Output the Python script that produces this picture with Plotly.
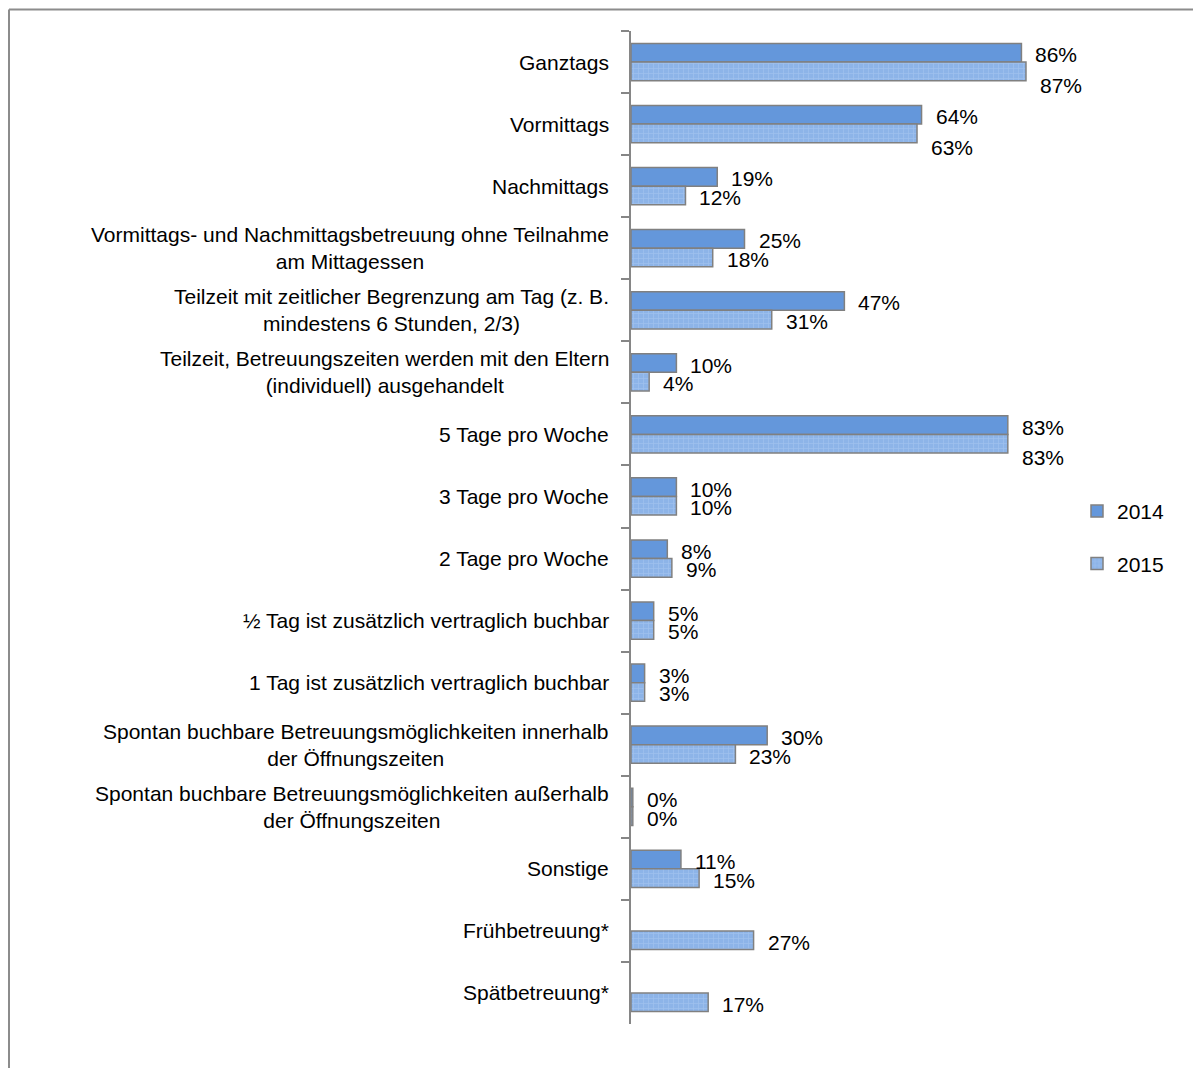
import plotly.graph_objects as go

categories = [
    "Ganztags",
    "Vormittags",
    "Nachmittags",
    "Vormittags- und Nachmittagsbetreuung ohne Teilnahme<br>am Mittagessen",
    "Teilzeit mit zeitlicher Begrenzung am Tag (z. B.<br>mindestens 6 Stunden, 2/3)",
    "Teilzeit, Betreuungszeiten werden mit den Eltern<br>(individuell) ausgehandelt",
    "5 Tage pro Woche",
    "3 Tage pro Woche",
    "2 Tage pro Woche",
    "½ Tag ist zusätzlich vertraglich buchbar",
    "1 Tag ist zusätzlich vertraglich buchbar",
    "Spontan buchbare Betreuungsmöglichkeiten innerhalb<br>der Öffnungszeiten",
    "Spontan buchbare Betreuungsmöglichkeiten außerhalb<br>der Öffnungszeiten",
    "Sonstige",
    "Frühbetreuung*",
    "Spätbetreuung*",
]
share_2014 = [0.86, 0.64, 0.19, 0.25, 0.47, 0.10, 0.83, 0.10, 0.08, 0.05, 0.03, 0.30, 0.004, 0.11, None, None]
share_2015 = [0.87, 0.63, 0.12, 0.18, 0.31, 0.04, 0.83, 0.10, 0.09, 0.05, 0.03, 0.23, 0.004, 0.15, 0.27, 0.17]

# the page puts the figure 8px in from the corner
W, H = 1193, 1060
left, right, top, bottom = 623, 1077, 23, 1016
FONT = "Liberation Sans, Arial, sans-serif"
GREY = "#868686"
BARGAP = 0.4

fig = go.Figure()
fig.add_trace(go.Bar(
    y=categories, x=share_2014, name="2014", orientation="h",
    legendgroup="a",
    marker=dict(color="#6497db", line=dict(color="#808080", width=1.5)),
))
fig.add_trace(go.Bar(
    y=categories, x=share_2015, name="2015", orientation="h",
    legendgroup="b",
    marker=dict(color="#8db4e8", line=dict(color="#808080", width=1.5),
                pattern=dict(shape="+", fgcolor="#b3cdf2", bgcolor="#8db4e8",
                             size=5, solidity=0.25)),
))

# category labels, centred like the original
for c in categories:
    fig.add_annotation(x=0, xref="paper", y=c, yref="y", text=c, showarrow=False,
                       xanchor="right", xshift=-20, align="center",
                       font=dict(size=21, color="black", family=FONT))

# value labels next to each bar
half = (1 - BARGAP) / 4
for i, (a, b) in enumerate(zip(share_2014, share_2015)):
    if a is not None:
        fig.add_annotation(x=a, y=i - half, xref="x", yref="y", text=f"{a:.0%}",
                           showarrow=False, xanchor="left", xshift=12, yshift=-2,
                           font=dict(size=21, color="black", family=FONT))
    if b is not None:
        extra = -12 if (a is not None and a >= 0.6 and b >= 0.6) else 0
        fig.add_annotation(x=b, y=i + half, xref="x", yref="y", text=f"{b:.0%}",
                           showarrow=False, xanchor="left", xshift=12, yshift=-2 + extra,
                           font=dict(size=21, color="black", family=FONT))

# outer frame (top and left edges)
pw, ph = right - left, bottom - top
fx = (1 - left) / pw
fy = (bottom - 1.5) / ph
fig.add_shape(type="line", xref="paper", yref="paper", x0=fx, x1=2, y0=fy, y1=fy,
              line=dict(color="#8c8c8c", width=2))
fig.add_shape(type="line", xref="paper", yref="paper", x0=fx, x1=fx, y0=fy, y1=-0.2,
              line=dict(color="#8c8c8c", width=2))

fig.update_layout(
    width=W, height=H,
    margin=dict(l=left, r=W - right, t=top, b=H - bottom),
    paper_bgcolor="white", plot_bgcolor="white",
    barmode="group", bargap=BARGAP, bargroupgap=0,
    font=dict(family=FONT, color="black"),
    showlegend=True,
    legend=dict(x=(1069 - left) / pw, y=0.49, xanchor="left", yanchor="middle",
                traceorder="grouped", tracegroupgap=22,
                font=dict(size=21), itemwidth=30),
    xaxis=dict(range=[0, 1], visible=False, fixedrange=True),
    yaxis=dict(type="category", autorange="reversed", showline=True,
               linecolor=GREY, linewidth=2, ticks="outside", tickson="boundaries",
               ticklen=8, tickcolor=GREY, tickwidth=2, showticklabels=False,
               showgrid=False, zeroline=False),
)

fig.write_html("out.html")
